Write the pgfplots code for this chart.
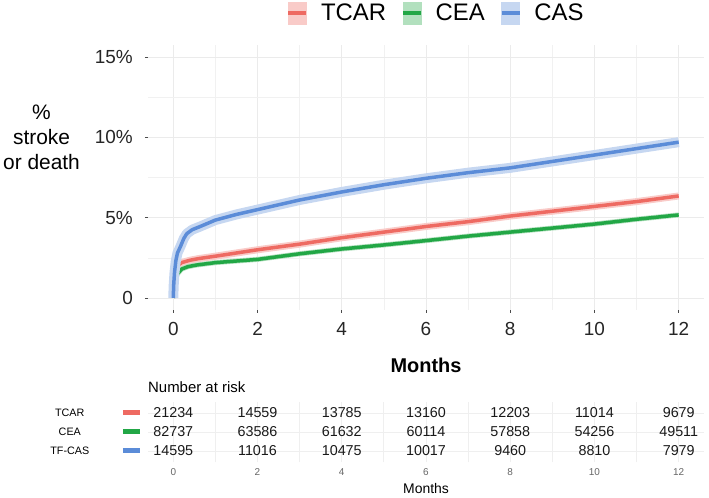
\documentclass[border=0pt]{standalone}
\usepackage{fontspec}
\setmainfont{Liberation Sans}
\usepackage{pgfplots}
\pgfplotsset{compat=1.18}
\usepackage{pgfplotstable}

\definecolor{tcar}{HTML}{EE6A62}
\definecolor{cea}{HTML}{22A746}
\definecolor{cas}{HTML}{5B8CD8}
\definecolor{gridc}{HTML}{EBEBEB}

% cumulative % stroke or death
\pgfplotstableread{
x y
0 0
0.01 0.6
0.02 1.2
0.05 1.7
0.1 2.0
0.2 2.2
0.4 2.35
0.6 2.45
1 2.6
1.5 2.8
2 3.0
3 3.35
4 3.75
5 4.1
6 4.45
7 4.75
8 5.1
9 5.4
10 5.7
11 6.0
12 6.35
}\tcardata

\pgfplotstableread{
x y
0 0
0.01 0.5
0.03 0.9
0.06 1.3
0.1 1.5
0.2 1.8
0.35 1.95
0.55 2.05
1 2.2
1.5 2.3
2 2.4
3 2.75
4 3.05
5 3.3
6 3.57
7 3.85
8 4.1
9 4.35
10 4.6
11 4.9
12 5.17
}\ceadata

\pgfplotstableread{
x y
0 0
0.01 0.8
0.03 1.6
0.06 2.3
0.1 2.8
0.17 3.2
0.25 3.7
0.32 4.0
0.45 4.25
0.64 4.45
1 4.85
1.5 5.2
2 5.5
2.5 5.8
3 6.1
3.5 6.35
4 6.6
5 7.05
6 7.45
7 7.8
8 8.1
9 8.5
10 8.9
11 9.3
12 9.7
}\casdata

% number at risk
\pgfplotstableread{
x y n
0 3 21234
2 3 14559
4 3 13785
6 3 13160
8 3 12203
10 3 11014
12 3 9679
0 2 82737
2 2 63586
4 2 61632
6 2 60114
8 2 57858
10 2 54256
12 2 49511
0 1 14595
2 1 11016
4 1 10475
6 1 10017
8 1 9460
10 1 8810
12 1 7979
}\riskdata

\newcommand{\fs}[1]{\fontsize{#1}{#1}\selectfont}

\begin{document}
\begin{tikzpicture}
\path[use as bounding box] (0bp,0bp) rectangle (709bp,498bp);

\begin{axis}[
  at={(148bp,188bp)}, anchor=south west,
  scale only axis, width=556bp, height=265bp,
  xmin=-0.6, xmax=12.6, ymin=-0.75, ymax=15.75,
  axis line style={draw=none},
  xtick={0,2,...,12}, ytick={0,5,10,15},
  minor xtick={1,3,...,11}, minor ytick={2.5,7.5,12.5},
  xticklabels={0,2,4,6,8,10,12},
  yticklabels={0,5\%,10\%,15\%},
  xmajorgrids, ymajorgrids, xminorgrids, yminorgrids,
  major grid style={gridc, line width=0.9bp},
  minor grid style={gridc!70, line width=0.6bp},
  xtick pos=bottom, ytick pos=left,
  tick align=outside, major tick length=3bp, minor tick length=0bp,
  tick style={black!70, line width=0.7bp},
  tick label style={font=\fs{19}, text=black!85},
  yticklabel style={inner sep=0pt, xshift=-12bp},
  xticklabel style={inner sep=0pt, yshift=-9bp},
  legend columns=3,
  legend style={at={(0.518,1.12)}, anchor=center, draw=none, fill=none,
    font=\fs{24},
    /tikz/every odd column/.append style={column sep=11bp},
    /tikz/every even column/.append style={column sep=13bp}},
  clip=false,
]
\addplot[tcar!35, line width=7bp, line join=round, forget plot] table {\tcardata};
\addplot[tcar, line width=3.5bp, line join=round, forget plot] table {\tcardata};
\addplot[cea!35, line width=5bp, line join=round, forget plot] table {\ceadata};
\addplot[cea, line width=3.5bp, line join=round, forget plot] table {\ceadata};
\addplot[cas!35, line width=10bp, line join=round, forget plot] table {\casdata};
\addplot[cas, line width=3.5bp, line join=round, forget plot] table {\casdata};

\addlegendimage{legend image code/.code={\fill[tcar!35] (0bp,-11bp) rectangle (18bp,11bp);
  \draw[tcar, line width=3.5bp] (0bp,0bp) -- (18bp,0bp);}}
\addlegendentry{TCAR}
\addlegendimage{legend image code/.code={\fill[cea!35] (0bp,-11bp) rectangle (18bp,11bp);
  \draw[cea, line width=3.5bp] (0bp,0bp) -- (18bp,0bp);}}
\addlegendentry{CEA}
\addlegendimage{legend image code/.code={\fill[cas!35] (0bp,-11bp) rectangle (18bp,11bp);
  \draw[cas, line width=3.5bp] (0bp,0bp) -- (18bp,0bp);}}
\addlegendentry{CAS}

\node[align=center, font=\fontsize{21}{25}\selectfont] at (rel axis cs:-0.1915,0.653)
  {\%\\stroke\\or death};
\node[font=\bfseries\fs{20}] at (rel axis cs:0.5,-0.2075) {Months};
\end{axis}

\begin{axis}[
  at={(148bp,35.6bp)}, anchor=south west,
  scale only axis, width=556bp, height=60.8bp,
  xmin=-0.6, xmax=12.6, ymin=0.4, ymax=3.6,
  axis line style={draw=none},
  major tick length=0bp, minor tick length=0bp,
  xtick={0,2,...,12}, minor xtick={1,3,...,11}, ytick={1,2,3},
  xticklabels={0,2,4,6,8,10,12},
  yticklabels={
    {\makebox[50bp]{\fs{10.8}TF-CAS}\hspace{28bp}\textcolor{cas}{\rule[1.3bp]{17bp}{5bp}}},
    {\makebox[50bp]{\fs{10.8}CEA}\hspace{28bp}\textcolor{cea}{\rule[1.3bp]{17bp}{5bp}}},
    {\makebox[50bp]{\fs{10.8}TCAR}\hspace{28bp}\textcolor{tcar}{\rule[1.3bp]{17bp}{5bp}}}},
  xmajorgrids, xminorgrids, ymajorgrids,
  major grid style={gridc!80, line width=0.8bp},
  minor grid style={gridc!80, line width=0.8bp},
  xticklabel style={font=\fs{10}, text=black!60, inner sep=0pt, yshift=-6bp},
  yticklabel style={inner sep=0pt, xshift=-8bp},
  clip=false,
]
\addplot[only marks, mark=none, nodes near coords, point meta=explicit symbolic,
  every node near coord/.style={anchor=center, font=\fs{14.4}, text=black!90}]
  table[meta=n] {\riskdata};
\node[anchor=west, inner sep=0pt, font=\fs{15}] at (rel axis cs:0,1.24) {Number at risk};
\node[font=\fs{14}] at (rel axis cs:0.5,-0.4375) {Months};
\end{axis}
\end{tikzpicture}
\end{document}
